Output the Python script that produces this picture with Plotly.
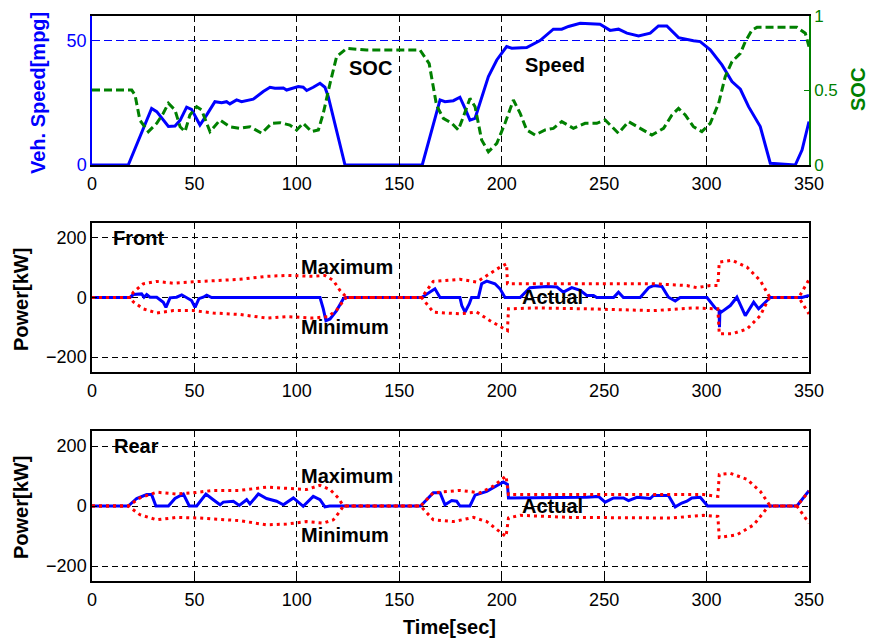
import plotly.graph_objects as go

# ---------------- data ----------------
# Vehicle speed [mpg] vs time [sec]
speed_t = [0, 17.7, 29.1, 31.6, 37.3, 40.5, 43, 46.2, 48.6, 52.7, 56, 60, 63.3, 65.7, 67.3, 70.6, 73,
           78.7, 83.6, 86.9, 89.3, 93.4, 95, 100.7, 103.1, 104.8, 108, 111.3, 113.7, 115.3, 123.5,
           161.2, 169.9, 172.3, 176.4, 179.6, 182.1, 184.5, 187, 189.4, 193.5, 197.6, 202.4, 204.9,
           212.2, 218.7, 225.2, 229.3, 232.6, 238.3, 248, 252.9, 257, 261.1, 266.8, 272.5, 276.5,
           280.6, 286.3, 293.6, 296.9, 301.8, 307.5, 312.4, 316.5, 320.5, 323, 326.2, 331.1, 343.3,
           346.6, 350]
speed_v = [0, 0, 22.8, 21.5, 15.5, 15.7, 18, 23.3, 22.4, 16.1, 20.2, 25.5, 25.1, 25.5, 24.6, 26.2, 25.5,
           26.5, 29.6, 31.3, 30.9, 31, 30.2, 31.6, 31.3, 30, 31.3, 32.9, 31.3, 27.6, 0,
           0, 26.2, 25.5, 25.9, 27.3, 22.8, 18.1, 18.8, 24.9, 35.6, 42.3, 47.7, 47,
           47.3, 50.1, 54.7, 54.7, 55.8, 57.1, 56.7, 54.2, 54.7, 53.1, 52, 53.1, 56,
           56, 51.3, 50, 49.7, 46.4, 40.3, 33.6, 30.5, 23.5, 19.8, 15.5, 0.7, 0,
           6, 17.5]

# Battery state of charge [-]
soc_t = [0, 19.4, 21, 23.4, 27.5, 31.6, 34.8, 37.3, 40.5, 43, 45.4, 47.8, 51.1, 53.5, 57.6, 62.5, 67.3,
         72.2, 77.1, 82.8, 87.7, 91.8, 96.6, 99.9, 103.1, 107.2, 110.5, 112.9, 116.2, 119.4, 124.3,
         134, 160.1, 164.6, 168.2, 171.5, 175.6, 178.8, 181.3, 184.5, 187, 190.2, 193.5, 197.6, 201.6,
         205.7, 209, 212.2, 216.3, 221.2, 225.2, 229.3, 235, 240.7, 246.4, 250.5, 257, 261.9, 267.6,
         273.3, 279, 283.1, 286.3, 289.6, 293.6, 297.7, 301.8, 305.9, 309.1, 312.4, 316.5, 318.9,
         322.2, 324.6, 344.1, 348.2, 350]
soc_v = [0.503, 0.503, 0.47, 0.30, 0.224, 0.28, 0.347, 0.414, 0.369, 0.257, 0.224, 0.336, 0.391, 0.369,
         0.224, 0.302, 0.257, 0.246, 0.257, 0.213, 0.28, 0.284, 0.268, 0.235, 0.28, 0.224, 0.235, 0.347,
         0.548, 0.727, 0.783, 0.772, 0.772, 0.68, 0.40, 0.313, 0.28, 0.235, 0.324, 0.447, 0.391, 0.168,
         0.089, 0.145, 0.28, 0.436, 0.347, 0.235, 0.201, 0.235, 0.246, 0.291, 0.246, 0.28, 0.28, 0.302,
         0.213, 0.291, 0.246, 0.201, 0.246, 0.336, 0.38, 0.336, 0.257, 0.224, 0.28, 0.414, 0.593, 0.694,
         0.749, 0.828, 0.906, 0.924, 0.924, 0.884, 0.794]

# Front motor power [kW]: maximum, minimum, actual
front_max_t = [0, 18.5, 20.2, 25, 31.6, 39.7, 47.8, 59.2, 72.2, 85.2, 95, 108, 113.7, 117.8, 121, 124.3,
               160.9, 166.6, 179.6, 187.8, 192.7, 199.2, 202.4, 202.8, 217.1, 233.4, 249.7, 274.1,
               290.4, 295.3, 301.8, 305.5, 306.2, 312.4, 319.7, 326.2, 330.3, 331.1, 345, 350]
front_max_v = [0, 0, 18, 46, 54, 48, 52, 57, 61, 71, 74, 71, 74, 57, 24, 0,
               0, 54, 61, 52, 74, 102, 113, 46, 46, 46, 46, 46,
               40, 33, 40, 40, 119, 125, 102, 57, 7, 0, 0, 60]
front_min_t = [0, 18.5, 20.2, 25, 31.6, 39.7, 49.5, 59.2, 72.2, 85.2, 95, 108, 115.3, 119.4, 123.5, 124.3,
               160.9, 166.6, 179.6, 187.8, 194.3, 199.2, 202.8, 203.3, 217.1, 241.5, 274.1, 293.6,
               305.5, 306.2, 312.4, 319.7, 326.2, 330.3, 331.1, 345, 350]
front_min_v = [0, 0, -15, -38, -52, -44, -44, -52, -57, -69, -64, -69, -64, -42, -4, 0,
               0, -49, -55, -49, -78, -98, -111, -38, -35, -38, -44, -35,
               -38, -122, -122, -106, -61, -4, 0, 0, -55]
front_act_t = [0, 18.5, 20.2, 24.2, 25.4, 26.7, 28.3, 31.6, 34.8, 36.1, 38.1, 41.3, 43.8, 46.2, 48.6,
               50.3, 52.2, 54.3, 56, 58.4, 111.3, 112.9, 114.2, 116.2, 119.4, 122.7, 124, 160.9, 167.4,
               169.9, 179.6, 180.5, 182.1, 184.2, 185.3, 188.6, 190.2, 192.7, 196.7, 199.2, 201.6, 209,
               213.8, 222, 226.9, 230.1, 234.2, 238.3, 241.5, 244.8, 246.4, 254.6, 257, 259.4, 267.6,
               271.7, 274.1, 278.2, 281.4, 284.7, 287.1, 300.2, 304.2, 306.1, 306.3, 306.5, 307.2,
               311.6, 314.8, 318.9, 321.3, 323, 325.4, 328.7, 331.1, 346.6, 350]
front_act_v = [0, 0, 10, 12, 1, 10, 1, 1, -16, -33, -1, 1, 9, -1, -10,
               -33, -4, 1, 8, 0, 0, -38, -78, -72, -44, -4, 0, 0, 29,
               0, 0, -27, -49, -21, 0, 0, 46, 55, 46, 29, 0, 0,
               33, 37, 35, 18, 33, 24, 7, 7, 0, 0, 18, 0, 0,
               33, 40, 37, 1, -12, 0, 0, -35, -44, -100, -44, -49,
               -27, 1, -61, -33, -16, -38, -16, 0, 0, 7]

# Rear motor power [kW]: maximum, minimum, actual
rear_max_t = [0, 17.7, 23.4, 31.6, 41.3, 49.5, 59.2, 72.2, 85.2, 95, 104.8, 111.3, 116.2, 120.2, 122.7,
              160.4, 166.6, 179.6, 189.4, 195.9, 202.1, 203.3, 225.2, 274.1, 298.5, 305.5, 306.2,
              311.6, 319.7, 326.2, 331.1, 344.1, 350]
rear_max_v = [0, 0, 27, 46, 40, 44, 52, 52, 63, 60, 55, 69, 55, 27, 0,
              0, 44, 52, 44, 66, 100, 38, 38, 40, 38, 32, 105,
              109, 89, 49, 0, 0, 49]
rear_min_t = [0, 17.7, 23.4, 31.6, 41.3, 52.7, 72.2, 85.2, 95, 104.8, 112.9, 117.8, 121, 122.7,
              160.4, 166.6, 176.4, 186.2, 192.7, 199.2, 202.1, 203.3, 209, 233.4, 257.8, 282.2,
              298.5, 305.5, 306.2, 314.8, 323, 329.5, 331.1, 344.1, 350]
rear_min_v = [0, 0, -29, -46, -38, -40, -49, -63, -60, -52, -57, -46, -18, 0,
              0, -46, -52, -38, -52, -85, -102, -40, -31, -38, -40, -40,
              -31, -35, -105, -96, -63, -7, 0, 0, -57]
rear_act_t = [0, 17.7, 21.8, 26.7, 29.1, 31.2, 37.3, 40.5, 44.6, 47.5, 51.1, 55.6, 59.2, 62.5, 64.1,
              69, 71.9, 75.5, 77.1, 81.2, 85.2, 90.1, 93.4, 98.3, 103.1, 108, 111.3, 113.7, 116,
              160.4, 166.6, 169.9, 172.3, 175.6, 178, 179.6, 184.5, 187, 192.7, 197.6, 200.8, 202.8,
              203.3, 241.5, 247.2, 250.5, 254.6, 259.4, 261.9, 266, 272.5, 274.1, 281.4, 284.7,
              287.9, 290.4, 292.8, 296.9, 300.5, 344.1, 346.6, 350]
rear_act_v = [0, 0, 25, 38, 38, 0, 0, 25, 40, 0, 0, 40, 21, 4, 13,
              16, 2, 21, 7, 40, 25, 16, 4, 27, -1, 32, 21, -3, 0,
              0, 44, 44, 4, 18, 16, 0, 0, 36, 49, 69, 80, 72,
              27, 29, 32, 13, 27, 27, 18, 29, 25, 35, 35, -3,
              10, 16, 27, 29, 0, 0, 21, 51]

x_ticks = [0, 50, 100, 150, 200, 250, 300, 350]

# ---------------- styling ----------------
W, H = 871, 639
FONT = "Arial, Liberation Sans, Helvetica, sans-serif"
BLUE, GREEN, RED = "#0000FF", "#008000", "#FF0000"
TICK_SIZE, LABEL_SIZE = 18, 20
X0, X1 = 92, 809
panels = [(16, 165), (223, 372), (431, 581)]  # pixel top/bottom of each plot area


def ydom(top, bot):
    return [1 - bot / H, 1 - top / H]


xdom = [X0 / W, X1 / W]

fig = go.Figure()

solid = dict(width=3)
dotted = dict(color=RED, width=3, dash="3px,4px")

# top panel: speed (left) and SOC (right)
fig.add_trace(go.Scatter(x=speed_t, y=speed_v, mode="lines", line=dict(color=BLUE, **solid),
                         xaxis="x", yaxis="y", showlegend=False))
fig.add_trace(go.Scatter(x=soc_t, y=soc_v, mode="lines", line=dict(color=GREEN, width=3, dash="8px,4px"),
                         xaxis="x", yaxis="y2", showlegend=False))

# front motor panel
fig.add_trace(go.Scatter(x=front_act_t, y=front_act_v, mode="lines", line=dict(color=BLUE, **solid),
                         xaxis="x2", yaxis="y3", showlegend=False))
fig.add_trace(go.Scatter(x=front_max_t, y=front_max_v, mode="lines", line=dotted,
                         xaxis="x2", yaxis="y3", showlegend=False))
fig.add_trace(go.Scatter(x=front_min_t, y=front_min_v, mode="lines", line=dotted,
                         xaxis="x2", yaxis="y3", showlegend=False))

# rear motor panel
fig.add_trace(go.Scatter(x=rear_act_t, y=rear_act_v, mode="lines", line=dict(color=BLUE, **solid),
                         xaxis="x3", yaxis="y4", showlegend=False))
fig.add_trace(go.Scatter(x=rear_max_t, y=rear_max_v, mode="lines", line=dotted,
                         xaxis="x3", yaxis="y4", showlegend=False))
fig.add_trace(go.Scatter(x=rear_min_t, y=rear_min_v, mode="lines", line=dotted,
                         xaxis="x3", yaxis="y4", showlegend=False))

tickfont = dict(family=FONT, size=TICK_SIZE, color="black")


def xaxis(anchor, dom):
    return dict(domain=xdom, anchor=anchor, range=[0, 350], tickvals=x_ticks,
                showline=True, linecolor="black", linewidth=1.5, mirror=True,
                ticks="inside", ticklen=5, tickcolor="black", ticklabelstandoff=2,
                showgrid=True, gridcolor="black", gridwidth=1, griddash="6px,4px",
                zeroline=False, tickfont=tickfont, fixedrange=True)


def power_yaxis(anchor, dom):
    return dict(domain=dom, anchor=anchor, range=[-250, 250], tickvals=[-200, 0, 200],
                showline=True, linecolor="black", linewidth=1.5, mirror=True,
                ticks="inside", ticklen=5, tickcolor="black",
                showgrid=True, gridcolor="black", gridwidth=1, griddash="6px,4px",
                zeroline=False, tickfont=tickfont, fixedrange=True)


d1, d2, d3 = (ydom(*p) for p in panels)

fig.update_layout(
    width=W, height=H, template="none",
    margin=dict(l=0, r=0, t=0, b=0, pad=0),
    paper_bgcolor="white", plot_bgcolor="white",
    font=dict(family=FONT, size=TICK_SIZE, color="black"),
    xaxis=xaxis("y", d1),
    yaxis=dict(domain=d1, anchor="x", range=[0, 60], tickvals=[0, 50],
               showline=True, linecolor=BLUE, linewidth=1.5,
               ticks="inside", ticklen=5, tickcolor=BLUE,
               showgrid=True, gridcolor=BLUE, gridwidth=1, griddash="8px,4px",
               zeroline=False, tickfont=dict(family=FONT, size=TICK_SIZE, color=BLUE), fixedrange=True),
    yaxis2=dict(domain=d1, anchor="x", overlaying="y", side="right", range=[0, 1],
                tickvals=[0, 0.5, 1], showline=True, linecolor=GREEN, linewidth=1.5,
                ticks="inside", ticklen=5, tickcolor=GREEN, showgrid=False, zeroline=False,
                tickfont=dict(family=FONT, size=TICK_SIZE - 1, color=GREEN), fixedrange=True),
    xaxis2=xaxis("y3", d2),
    yaxis3=power_yaxis("x2", d2),
    xaxis3=xaxis("y4", d3),
    yaxis4=power_yaxis("x3", d3),
)

# axis titles
lab = dict(family=FONT, size=LABEL_SIZE)


def paper_y(py):
    return 1 - py / H


annots = [
    dict(text="<b>Veh. Speed[mpg]</b>", x=38 / W, y=paper_y(93), textangle=-90, font=dict(color=BLUE, **lab)),
    dict(text="<b>SOC</b>", x=858 / W, y=paper_y(90), textangle=-90, font=dict(color=GREEN, **lab)),
    dict(text="<b>Power[kW]</b>", x=21 / W, y=paper_y(300), textangle=-90, font=dict(color="black", **lab)),
    dict(text="<b>Power[kW]</b>", x=21 / W, y=paper_y(508), textangle=-90, font=dict(color="black", **lab)),
    dict(text="<b>Time[sec]</b>", x=449 / W, y=paper_y(627), font=dict(color="black", **lab)),
]
for a in annots:
    fig.add_annotation(xref="paper", yref="paper", showarrow=False, xanchor="center", yanchor="middle", **a)

# in-plot labels
inplot = [
    ("SOC", "x", "y", 136, 39), ("Speed", "x", "y", 226, 40.3),
    ("Front", "x2", "y3", 22.5, 200), ("Maximum", "x2", "y3", 124.5, 102),
    ("Minimum", "x2", "y3", 123.5, -100), ("Actual", "x2", "y3", 225, 0),
    ("Rear", "x3", "y4", 21.5, 200), ("Maximum", "x3", "y4", 124.5, 100),
    ("Minimum", "x3", "y4", 123.5, -98), ("Actual", "x3", "y4", 225, 0),
]
for txt, xr, yr, xv, yv in inplot:
    fig.add_annotation(text=f"<b>{txt}</b>", xref=xr, yref=yr, x=xv, y=yv, showarrow=False,
                       xanchor="center", yanchor="middle", font=dict(family=FONT, size=LABEL_SIZE, color="black"))

fig.write_html("out.html")
